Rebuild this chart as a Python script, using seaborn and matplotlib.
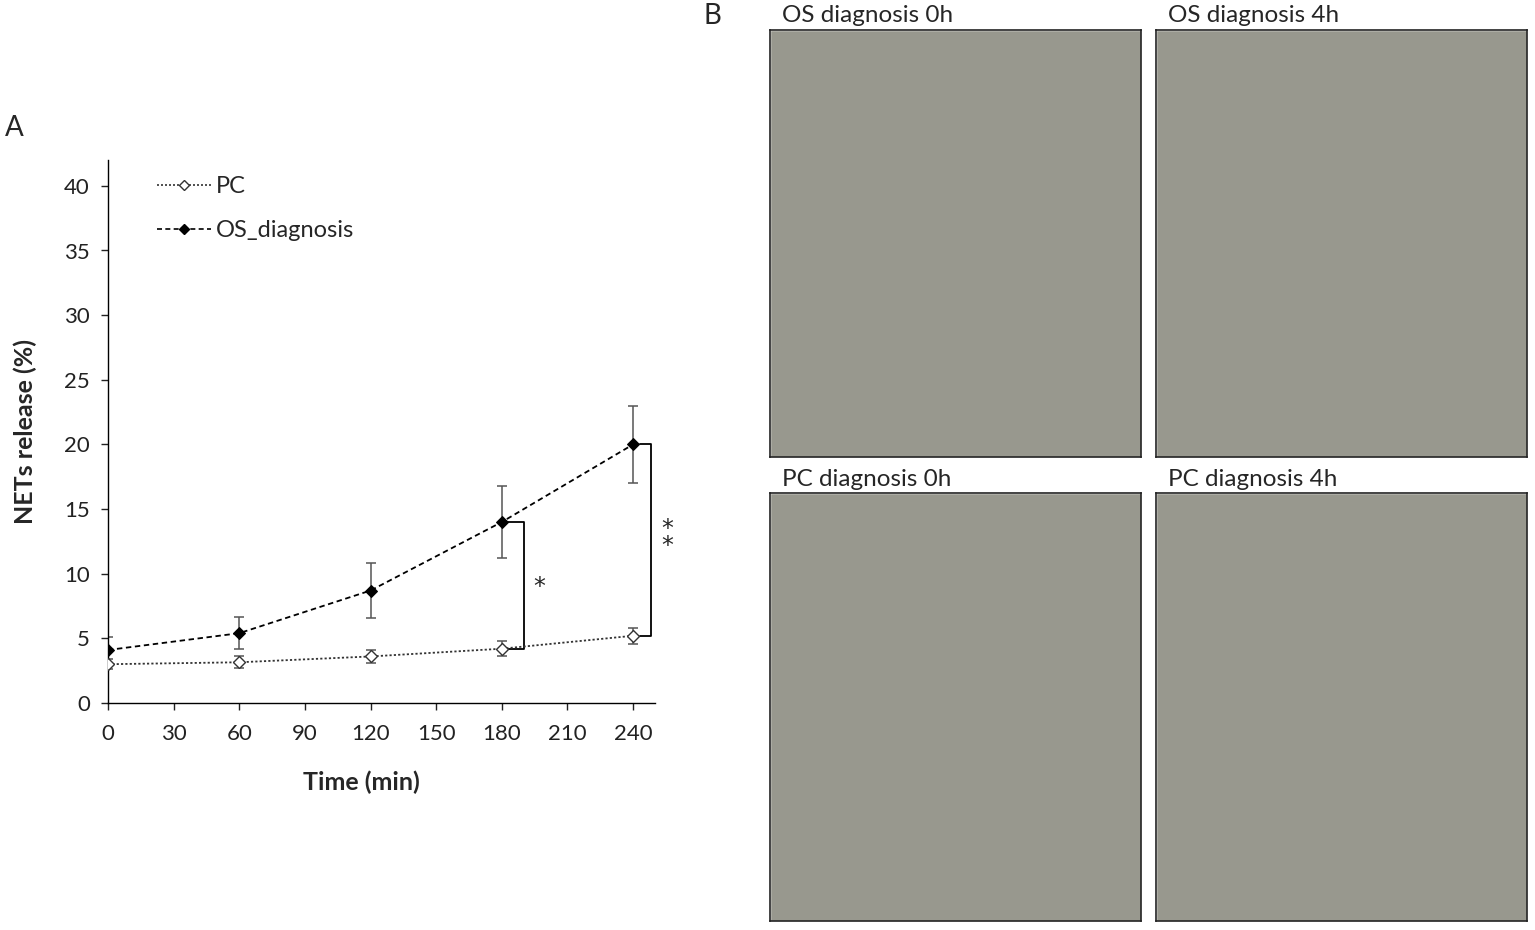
import numpy as np
import pandas as pd
import matplotlib.pyplot as plt
import seaborn as sns
from matplotlib.lines import Line2D
from matplotlib.patches import Rectangle

# ── Data ─────────────────────────────────────────────────────────────────────
time_min = [0, 60, 120, 180, 240]
pc_mean = [3.0, 3.15, 3.6, 4.2, 5.2]
pc_err = [0.4, 0.45, 0.5, 0.6, 0.6]
os_mean = [4.1, 5.4, 8.7, 14.0, 20.0]
os_err = [1.0, 1.25, 2.15, 2.75, 3.0]

x_ticks = [0, 30, 60, 90, 120, 150, 180, 210, 240]
y_ticks = [0, 5, 10, 15, 20, 25, 30, 35, 40]

# significance brackets: (time index, label)
sig_marks = [(3, "*"), (4, "*\n*")]

panel_titles = ["OS diagnosis 0h", "OS diagnosis 4h",
                "PC diagnosis 0h", "PC diagnosis 4h"]

df = pd.DataFrame({
    "time": time_min * 2,
    "release": pc_mean + os_mean,
    "group": ["PC"] * 5 + ["OS_diagnosis"] * 5,
})

sns.set_theme(style="ticks")
plt.rcParams["font.family"] = ["Lato", "DejaVu Sans"]

W, H = 1535, 930
fig = plt.figure(figsize=(W / 100, H / 100), dpi=100)

def px_box(x0, y0, x1, y1):
    return [x0 / W, 1 - y1 / H, (x1 - x0) / W, (y1 - y0) / H]

# ── Panel A: line chart ──────────────────────────────────────────────────────
ax = fig.add_axes(px_box(108, 160, 655, 703))

pc = df[df["group"] == "PC"]
osd = df[df["group"] == "OS_diagnosis"]

ax.errorbar(time_min, pc_mean, yerr=pc_err, fmt="none", ecolor="#555555",
            elinewidth=1.1, capsize=3.5, capthick=1.1, zorder=2)
ax.errorbar(time_min, os_mean, yerr=os_err, fmt="none", ecolor="#555555",
            elinewidth=1.1, capsize=3.5, capthick=1.1, zorder=2)

sns.lineplot(data=pc, x="time", y="release", ax=ax, color="#333333",
             linestyle=(0, (1.2, 1.2)), linewidth=1.3, marker="D",
             markersize=6, markerfacecolor="white", markeredgecolor="#333333",
             markeredgewidth=1.0, zorder=3)
sns.lineplot(data=osd, x="time", y="release", ax=ax, color="black",
             linestyle=(0, (3, 2)), linewidth=1.3, marker="D",
             markersize=6, markerfacecolor="black", markeredgecolor="black",
             zorder=3)

# significance brackets
for idx, label in sig_marks:
    t = time_min[idx]
    xb = t + (10 if idx == 3 else 8)
    ax.plot([t + 3, xb, xb, t + 3], [os_mean[idx], os_mean[idx],
                                      pc_mean[idx], pc_mean[idx]],
            color="black", linewidth=1.3, zorder=2, clip_on=False)
    ymid = (os_mean[idx] + pc_mean[idx]) / 2
    if idx == 3:
        ax.text(xb + 7, ymid - 0.1, label, fontsize=17, ha="center",
                va="center", family="DejaVu Sans")
    else:
        ax.text(xb + 7.5, ymid + 0.2, label, fontsize=17, ha="center",
                va="center", linespacing=0.6, clip_on=False,
                family="DejaVu Sans")

ax.set_xlim(0, 250)
ax.set_ylim(0, 42)
ax.set_xticks(x_ticks)
ax.set_yticks(y_ticks)
ax.tick_params(axis="both", labelsize=16, length=5, width=1.0,
               direction="out", colors="#222222")
ax.tick_params(axis="x", pad=10)
ax.tick_params(axis="y", pad=8)
for side in ["top", "right"]:
    ax.spines[side].set_visible(False)
for side in ["left", "bottom"]:
    ax.spines[side].set_color("black")
    ax.spines[side].set_linewidth(1.0)

ax.set_xlabel("Time (min)", fontsize=18, fontweight="bold")
ax.set_ylabel("NETs release (%)", fontsize=18, fontweight="bold")
ax.xaxis.set_label_coords(0.464, -0.125)
ax.yaxis.set_label_coords(-0.13, 0.5)

handles = [
    Line2D([], [], color="#333333", linestyle=(0, (1.2, 1.2)), linewidth=1.2,
           marker="D", markersize=5, markerfacecolor="white",
           markeredgecolor="#333333"),
    Line2D([], [], color="black", linestyle=(0, (3, 2)), linewidth=1.2,
           marker="D", markersize=5, markerfacecolor="black"),
]
ax.legend(handles, ["PC", "OS_diagnosis"], loc="upper left",
          bbox_to_anchor=(0.05, 1.01), frameon=False, fontsize=17,
          handlelength=2.3, handletextpad=0.2, labelspacing=1.0,
          numpoints=1)

fig.text(14 / W, 1 - 128 / H, "A", fontsize=20, ha="center", va="center")

# ── Panel B: image tiles ─────────────────────────────────────────────────────
fig.text(712 / W, 1 - 16 / H, "B", fontsize=20, ha="center", va="center")
tiles = [(770, 30, 1141, 457), (1156, 30, 1527, 457),
         (770, 493, 1141, 921), (1156, 493, 1527, 921)]
for (x0, y0, x1, y1), title in zip(tiles, panel_titles):
    iax = fig.add_axes(px_box(x0, y0, x1, y1))
    iax.add_patch(Rectangle((0, 0), 1, 1, facecolor="#98988e",
                            transform=iax.transAxes))
    iax.set_xticks([])
    iax.set_yticks([])
    for s in iax.spines.values():
        s.set_visible(True)
        s.set_color("#222222")
        s.set_linewidth(1.2)
    fig.text((x0 + 12) / W, 1 - (y0 - 14) / H, title, fontsize=17.5,
             ha="left", va="center")

fig.savefig("out.png", dpi=100)
